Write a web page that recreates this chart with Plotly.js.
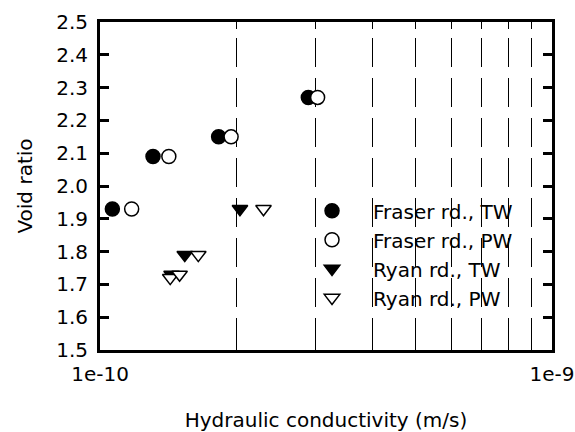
<!DOCTYPE html>
<html>
<head>
<meta charset="utf-8">
<script src="https://cdn.plot.ly/plotly-3.0.1.min.js"></script>
<style>html,body{margin:0;padding:0;background:#fff;}#chart{width:575px;height:432px;}</style>
</head>
<body>
<div id="chart"></div>
<script>
// Hydraulic conductivity (m/s) and void ratio
var fraserTW_k = [1.065e-10, 1.31e-10, 1.83e-10, 2.89e-10];
var fraserTW_e = [1.93, 2.09, 2.15, 2.27];
var fraserPW_k = [1.175e-10, 1.42e-10, 1.95e-10, 3.03e-10];
var fraserPW_e = [1.93, 2.09, 2.15, 2.27];
var ryanTW_k = [2.04e-10, 1.54e-10, 1.44e-10];
var ryanTW_e = [1.93, 1.79, 1.73];
var ryanPW_k = [2.30e-10, 1.65e-10, 1.43e-10, 1.50e-10];
var ryanPW_e = [1.93, 1.79, 1.72, 1.73];

var seriesNames = ['Fraser rd., TW', 'Fraser rd., PW', 'Ryan rd., TW', 'Ryan rd., PW'];
var xTickVals = [1e-10, 2e-10, 3e-10, 4e-10, 5e-10, 6e-10, 7e-10, 8e-10, 9e-10, 1e-9];
var xTickText = ['1e-10', '', '', '', '', '', '', '', '', '1e-9'];
var xTitle = 'Hydraulic conductivity (m/s)';
var yTitle = 'Void ratio';

var FONT = 'DejaVu Sans, Arial, sans-serif';

function mk(k, e, name, symbol, fill) {
  return {
    x: k, y: e, name: name, type: 'scatter', mode: 'markers',
    cliponaxis: false,
    marker: {symbol: symbol, size: symbol.indexOf('triangle') === 0 ? 13.5 : 14,
             color: fill, line: {color: '#000', width: 1.5}}
  };
}

var data = [
  mk(fraserTW_k, fraserTW_e, seriesNames[0], 'circle', '#000'),
  mk(fraserPW_k, fraserPW_e, seriesNames[1], 'circle', '#fff'),
  mk(ryanTW_k, ryanTW_e, seriesNames[2], 'triangle-down', '#000'),
  mk(ryanPW_k, ryanPW_e, seriesNames[3], 'triangle-down', '#fff')
];

var layout = {
  width: 575, height: 432,
  margin: {l: 100, r: 23, t: 22, b: 82, pad: 0},
  paper_bgcolor: '#fff', plot_bgcolor: '#fff',
  font: {family: FONT, size: 20, color: '#000'},
  showlegend: true,
  legend: {x: 0.4226, xanchor: 'left', y: 0.292, yanchor: 'middle',
           bgcolor: 'rgba(0,0,0,0)', borderwidth: 0, itemwidth: 72,
           font: {family: FONT, size: 20, color: '#000'}},
  xaxis: {
    type: 'log', range: [-10, -9],
    tickmode: 'array', tickvals: xTickVals, ticktext: xTickText,
    ticks: 'inside', ticklen: 7, tickwidth: 1, tickcolor: '#000',
    showline: true, linewidth: 3, linecolor: '#000', mirror: 'ticks',
    showgrid: true, gridcolor: '#000', gridwidth: 1,
    griddash: '4.7px,11.6px,28.4px,11.6px,28.4px,11.6px,28.4px,11.6px,28.4px,11.6px,28.4px,11.6px,28.4px,11.6px,28.4px,11.6px,28.4px,11.6px',
    zeroline: false,
    ticklabelstandoff: 4,
    tickfont: {family: FONT, size: 20, color: '#000'},
    title: {text: xTitle, font: {family: FONT, size: 20, color: '#000'}, standoff: 40}
  },
  yaxis: {
    range: [1.5, 2.5], dtick: 0.1, tick0: 1.5, tickformat: '.1f',
    ticks: 'inside', ticklen: 9, tickwidth: 3, tickcolor: '#000',
    showline: true, linewidth: 3, linecolor: '#000', mirror: 'ticks',
    showgrid: false, zeroline: false,
    ticklabelstandoff: 5,
    tickfont: {family: FONT, size: 20, color: '#000'},
    title: {text: yTitle, font: {family: FONT, size: 20, color: '#000'}, standoff: 19}
  }
};

Plotly.newPlot('chart', data, layout, {displayModeBar: false, staticPlot: true});
</script>
</body>
</html>
